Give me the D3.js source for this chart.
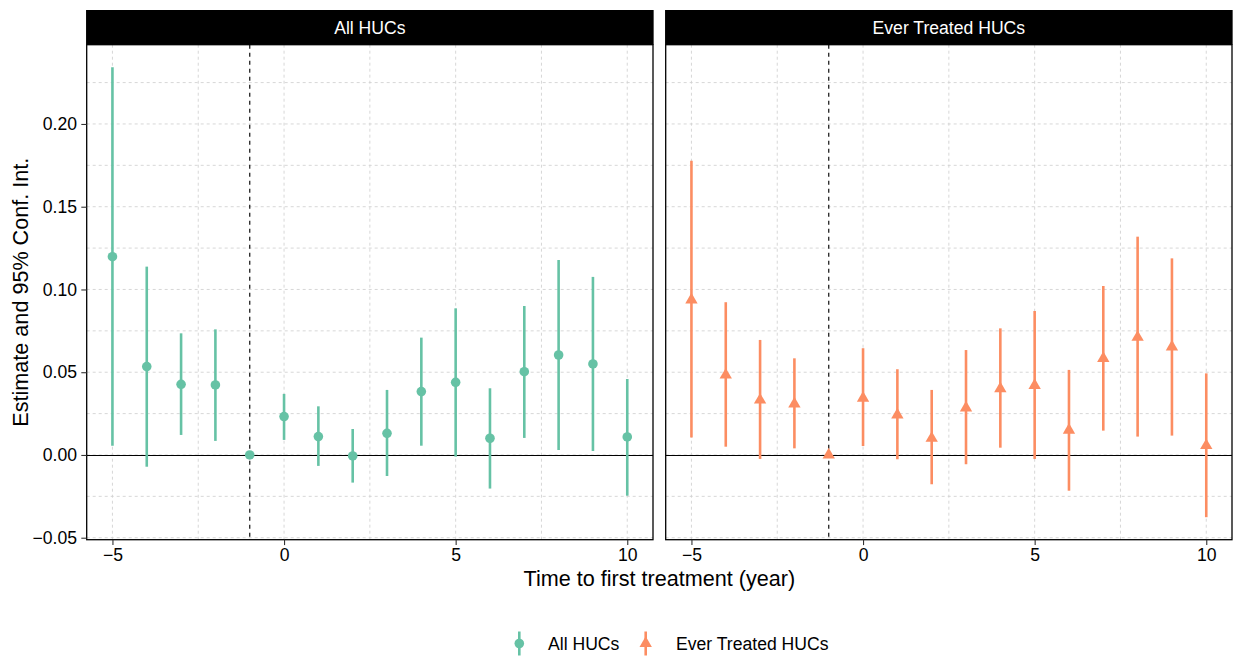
<!DOCTYPE html>
<html><head><meta charset="utf-8">
<script src="https://cdn.jsdelivr.net/npm/d3@7"></script>
<style>body{margin:0;background:#fff}svg{font-family:"Liberation Sans",Arial,sans-serif}</style>
</head><body><svg id="chart" width="1240" height="658"></svg>
<script>
const panels = ["All HUCs", "Ever Treated HUCs"];
const periods = [-5,-4,-3,-2,-1,0,1,2,3,4,5,6,7,8,9,10];
const estAll   = [0.1198,0.0534,0.0427,0.0423,0,0.0232,0.0111,-0.0006,0.0131,0.0383,0.0439,0.0101,0.0503,0.0604,0.0550,0.0109];
const lowAll   = [0.0056,-0.0071,0.0121,0.0085,0,0.0091,-0.0066,-0.0167,-0.0127,0.0056,-0.0010,-0.0203,0.0103,0.0030,0.0024,-0.0246];
const highAll  = [0.2343,0.1138,0.0735,0.0759,0,0.0369,0.0294,0.0157,0.0393,0.0709,0.0886,0.0403,0.0900,0.1178,0.1076,0.0459];
const estEver  = [0.0937,0.0483,0.0332,0.0308,0,0.0343,0.0242,0.0101,0.0284,0.0401,0.0420,0.0150,0.0583,0.0711,0.0653,0.0057];
const lowEver  = [0.0105,0.0050,-0.0024,0.0040,0,0.0054,-0.0026,-0.0177,-0.0056,0.0044,-0.0024,-0.0216,0.0147,0.0111,0.0117,-0.0376];
const highEver = [0.1778,0.0923,0.0695,0.0584,0,0.0645,0.0518,0.0393,0.0634,0.0765,0.0870,0.0514,0.1021,0.1319,0.1188,0.0493];
const xTicks = [-5,0,5,10];
const xMinor = [-2.5,2.5,7.5];
const yTicks = [-0.05,0,0.05,0.10,0.15,0.20];
const yMinor = [-0.025,0.025,0.075,0.125,0.175,0.225];
const colors = ["#66c2a5","#fc8d62"];

const series = [
  periods.map((p,i)=>({x:p,est:estAll[i],lo:lowAll[i],hi:highAll[i]})),
  periods.map((p,i)=>({x:p,est:estEver[i],lo:lowEver[i],hi:highEver[i]}))
];

const svg = d3.select("#chart");
const pTop = 44.7, pBottom = 539.7, stripTop = 10;
const panelX = [[86.7,653],[665.7,1232]];
const smallFont = 17.6, titleFont = 21.6;

const allVals = series.flat().flatMap(d=>[d.lo,d.hi,d.est]);
const yMin = d3.min(allVals), yMax = d3.max(allVals), yPad = (yMax-yMin)*0.05;
const y = d3.scaleLinear().domain([yMin-yPad, yMax+yPad]).range([pBottom, pTop]);
const xPad = (10-(-5))*0.05;

panels.forEach((name, k) => {
  const [x0,x1] = panelX[k];
  const x = d3.scaleLinear().domain([-5-xPad, 10+xPad]).range([x0,x1]);
  const g = svg.append("g");
  const grid = g.append("g").attr("stroke","#d3d3d3").attr("stroke-width",0.9).attr("stroke-dasharray","3,3");
  yTicks.concat(yMinor).forEach(v=>{
    grid.append("line").attr("x1",x0).attr("x2",x1).attr("y1",y(v)).attr("y2",y(v));
  });
  xTicks.concat(xMinor).forEach(v=>{
    grid.append("line").attr("y1",pTop).attr("y2",pBottom).attr("x1",x(v)).attr("x2",x(v));
  });
  const y0 = Math.round(y(0)) + 0.5;
  g.append("line").attr("x1",x0).attr("x2",x1).attr("y1",y0).attr("y2",y0).attr("stroke","#000").attr("stroke-width",1.1);
  g.append("line").attr("x1",x(-1)).attr("x2",x(-1)).attr("y1",pTop).attr("y2",pBottom)
    .attr("stroke","#222").attr("stroke-width",1.3).attr("stroke-dasharray","4,4");
  const col = colors[k];
  g.selectAll(".eb").data(series[k]).enter().append("line")
    .attr("x1",d=>x(d.x)).attr("x2",d=>x(d.x)).attr("y1",d=>y(d.lo)).attr("y2",d=>y(d.hi))
    .attr("stroke",col).attr("stroke-width",2.6);
  if (k===0) {
    g.selectAll(".pt").data(series[k]).enter().append("circle")
      .attr("cx",d=>x(d.x)).attr("cy",d=>y(d.est)).attr("r",4.8).attr("fill",col);
  } else {
    const tri = d3.symbol().type(d3.symbolTriangle).size(66);
    g.selectAll(".pt").data(series[k]).enter().append("path")
      .attr("d",tri).attr("transform",d=>`translate(${x(d.x)},${y(d.est)})`).attr("fill",col);
  }
  g.append("rect").attr("x",x0).attr("y",pTop).attr("width",x1-x0).attr("height",pBottom-pTop)
    .attr("fill","none").attr("stroke","#000").attr("stroke-width",1.3);
  g.append("rect").attr("x",x0-0.65).attr("y",stripTop).attr("width",x1-x0+1.3).attr("height",pTop-stripTop)
    .attr("fill","#000");
  g.append("text").attr("x",(x0+x1)/2).attr("y",(stripTop+pTop)/2).attr("dy","0.36em")
    .attr("text-anchor","middle").attr("fill","#fff").attr("font-size",smallFont).text(name);
  const xa = d3.axisBottom(x).tickValues(xTicks).tickSize(5.4).tickPadding(3.8).tickFormat(d=>d<0?"\u2212"+Math.abs(d):d);
  const xg = g.append("g").attr("transform",`translate(0,${pBottom})`).call(xa);
  xg.select(".domain").remove();
  xg.selectAll("line").attr("stroke","#333").attr("stroke-width",1.1);
  xg.selectAll("text").attr("font-size",smallFont).attr("fill","#000").attr("font-family","Liberation Sans, Arial, sans-serif");
  if (k===0) {
    const ya = d3.axisLeft(y).tickValues(yTicks).tickSize(5.4).tickPadding(4.3).tickFormat(d=>(d<0?"\u2212":"")+Math.abs(d).toFixed(2));
    const yg = g.append("g").attr("transform",`translate(${x0},0)`).call(ya);
    yg.select(".domain").remove();
    yg.selectAll("line").attr("stroke","#333").attr("stroke-width",1.1);
    yg.selectAll("text").attr("font-size",smallFont).attr("fill","#000").attr("font-family","Liberation Sans, Arial, sans-serif");
  }
});

svg.append("text").attr("x",(panelX[0][0]+panelX[1][1])/2).attr("y",585.5).attr("text-anchor","middle")
  .attr("font-size",titleFont).text("Time to first treatment (year)");
svg.append("text").attr("transform",`translate(27.5,${(pTop+pBottom)/2}) rotate(-90)`).attr("text-anchor","middle")
  .attr("font-size",titleFont).text("Estimate and 95% Conf. Int.");

const lg = svg.append("g").attr("transform","translate(0,643.5)");
const items = [{name:"All HUCs",kx:519.3,tx:548},{name:"Ever Treated HUCs",kx:645.7,tx:676}];
items.forEach((it,k)=>{
  lg.append("line").attr("x1",it.kx).attr("x2",it.kx).attr("y1",-12).attr("y2",12).attr("stroke",colors[k]).attr("stroke-width",2.6);
  if (k===0) lg.append("circle").attr("cx",it.kx).attr("cy",0).attr("r",4.8).attr("fill",colors[k]);
  else lg.append("path").attr("d",d3.symbol().type(d3.symbolTriangle).size(66)()).attr("transform",`translate(${it.kx},0)`).attr("fill",colors[k]);
  lg.append("text").attr("x",it.tx).attr("y",0).attr("dy","0.36em").attr("font-size",smallFont).text(it.name);
});
</script></body></html>
